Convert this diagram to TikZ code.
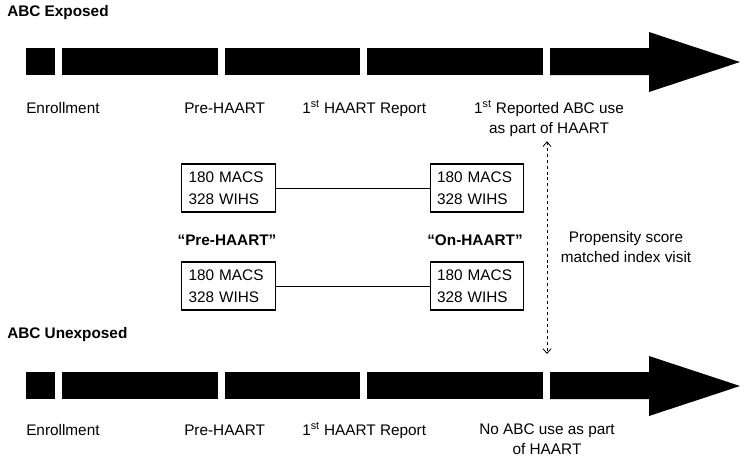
\documentclass[tikz,border=0pt]{standalone}
\usepackage{fontspec}
\setmainfont{Liberation Sans}
\usetikzlibrary{arrows.meta}

\begin{document}
\begin{tikzpicture}[
    x = 0.75pt, y = -0.75pt,
    every node/.style = {font = \fontsize{11.5}{15}\selectfont, inner sep = 0pt},
    seg/.style = {fill = black},
    lbl/.style = {anchor = base west},
    note/.style = {align = center},
    ttl/.style = {anchor = west, font = \fontsize{11.5}{14}\selectfont\bfseries},
    grp/.style = {draw, line width = 0.8pt, inner xsep = 5pt, text width = 60pt, minimum height = 36pt, align = left, font = \fontsize{11.5}{16.5}\selectfont},
    link/.style = {line width = 0.6pt},
    match/.style = {{Straight Barb[length=3.5pt, width=6pt]}-{Straight Barb[length=3.5pt, width=6pt]}, line width = 0.6pt, dash pattern = on 2.2pt off 2.2pt},
]
\useasboundingbox (0,0) rectangle (750,462);

% ABC exposed time line
\begin{scope}
\foreach \a/\b in {26/55, 62/218, 225/360, 367/543}
    \fill[seg] (\a,48) rectangle (\b,75);
\fill[seg] (550,48) -- (649,48) -- (649,32) -- (740,62) -- (649,92) -- (649,75) -- (550,75) -- cycle;
\end{scope}

\node[ttl] (expTitle) at (7,13) {ABC Exposed};
\node[lbl] (expEnroll) at (26,113) {Enrollment};
\node[lbl] (expPre) at (184,113) {Pre-HAART};
\node[lbl] (expFirst) at (302,113) {1\textsuperscript{st} HAART Report};
\node[note] (expABC) at (549,119) {1\textsuperscript{st} Reported ABC use\\as part of HAART};

% ABC unexposed time line
\begin{scope}[shift = {(0,324)}]
\foreach \a/\b in {26/55, 62/218, 225/360, 367/543}
    \fill[seg] (\a,48) rectangle (\b,75);
\fill[seg] (550,48) -- (649,48) -- (649,32) -- (740,62) -- (649,92) -- (649,75) -- (550,75) -- cycle;
\end{scope}

\node[ttl] (unxTitle) at (7,335) {ABC Unexposed};
\node[lbl] (unxEnroll) at (26,435) {Enrollment};
\node[lbl] (unxPre) at (184,435) {Pre-HAART};
\node[lbl] (unxFirst) at (302,435) {1\textsuperscript{st} HAART Report};
\node[note] (unxABC) at (547,439.5) {No ABC use as part\\of HAART};

% matched groups
\node[grp] (preTop) at (228.5,188) {180 MACS\\328 WIHS};
\node[grp] (onTop) at (477,188) {180 MACS\\328 WIHS};
\node[grp] (preBot) at (228.5,286) {180 MACS\\328 WIHS};
\node[grp] (onBot) at (477,286) {180 MACS\\328 WIHS};
\draw[link] (preTop) -- (onTop);
\draw[link] (preBot) -- (onBot);

\node[font = \fontsize{11.5}{14}\selectfont\bfseries] (preLbl) at (227,240) {“Pre-HAART”};
\node[font = \fontsize{11.5}{14}\selectfont\bfseries] (onLbl) at (475,240) {“On-HAART”};

% index visit
\coordinate (idx) at (547,354);
\draw[match] (idx |- expABC.south) ++(0,4) -- (idx);
\node[note] (psLbl) at (626,247) {Propensity score\\matched index visit};

\end{tikzpicture}
\end{document}
